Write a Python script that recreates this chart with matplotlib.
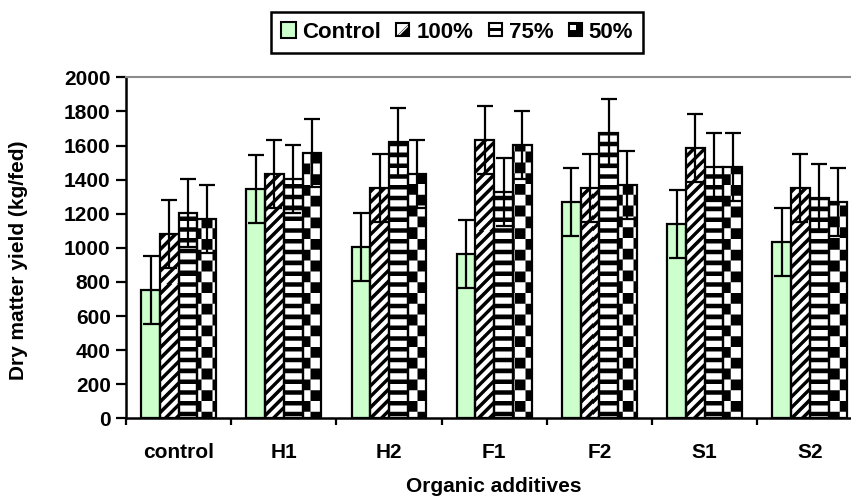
import numpy as np
import matplotlib
matplotlib.use("Agg")
import matplotlib.pyplot as plt
from matplotlib.legend_handler import HandlerBase
from matplotlib.patches import Rectangle, Polygon, Patch

plt.rcParams['font.family'] = ['Liberation Sans', 'DejaVu Sans']
plt.rcParams['font.weight'] = 'bold'
plt.rcParams['axes.labelweight'] = 'bold'

# ---------------- data ----------------
categories = ["control", "H1", "H2", "F1", "F2", "S1", "S2"]
series_names = ["Control", "100%", "75%", "50%"]
control_vals = [752, 1343, 1006, 962, 1267, 1141, 1036]
p100_vals = [1081, 1431, 1352, 1632, 1352, 1587, 1352]
p75_vals = [1204, 1404, 1622, 1329, 1671, 1476, 1290]
p50_vals = [1167, 1558, 1433, 1603, 1367, 1476, 1269]
err_control = [200, 200, 200, 200, 200, 200, 200]
err_p100 = [200, 200, 200, 200, 200, 200, 200]
err_p75 = [200, 200, 200, 200, 200, 200, 200]
err_p50 = [200, 200, 200, 200, 200, 200, 200]
yticks = [0, 200, 400, 600, 800, 1000, 1200, 1400, 1600, 1800, 2000]

GREEN = '#CCFFCC'
W, H = 851, 499
fig = plt.figure(figsize=(W / 100, H / 100), dpi=100)
ax_l, ax_b, ax_w, ax_h = 126 / W, 80.7 / H, (W - 126) / W, 341 / H
ax = fig.add_axes([ax_l, ax_b, ax_w, ax_h])

XMIN, XMAX = -0.5, -0.5 + (W - 126) / 105.2
YMAX = 2000

x = np.arange(len(categories))
bw = 0.178
offsets = [-1.5 * bw, -0.5 * bw, 0.5 * bw, 1.5 * bw]
vals = [control_vals, p100_vals, p75_vals, p50_vals]
errs = [err_control, err_p100, err_p75, err_p50]
kinds = ['control', 'diag', 'hstripe', 'checker']

# pattern images in pixel space of the axes
pxw, pxh = int(round(W - 126)), 341
ss = 4
u = (np.arange(pxw * ss) + 0.5) / ss
v = (np.arange(pxh * ss) + 0.5) / ss
U, V = np.meshgrid(u, v)
P = 10.8


def make_pattern(kind):
    if kind == 'diag':
        black = ((U + V) % P) < 0.45 * P
    elif kind == 'hstripe':
        black = (V % P) < 0.42 * P
    else:
        black = ((np.floor(U / P) + np.floor(V / P)) % 2) == 0
    img = np.where(black, 0.0, 1.0)
    img = img.reshape(pxh, ss, pxw, ss).mean(axis=(1, 3))
    return img


patterns = {k: make_pattern(k) for k in ['diag', 'hstripe', 'checker']}

for i in range(4):
    face = GREEN if kinds[i] == 'control' else 'white'
    bars = ax.bar(x + offsets[i], vals[i], width=bw, color=face,
                  edgecolor='none', zorder=2)
    if kinds[i] != 'control':
        for b in bars:
            im = ax.imshow(patterns[kinds[i]], cmap='gray', vmin=0, vmax=1,
                           extent=(XMIN, XMAX, 0, YMAX), origin='upper',
                           aspect='auto', interpolation='nearest', zorder=2.5)
            im.set_clip_path(b)
    ax.bar(x + offsets[i], vals[i], width=bw, fill=False,
           edgecolor='black', linewidth=1.6, zorder=3)
    ax.errorbar(x + offsets[i], vals[i], yerr=errs[i], fmt='none',
                ecolor='black', elinewidth=1.6, capsize=5.5, capthick=1.6,
                zorder=4)

ax.set_xlim(XMIN, XMAX)
ax.set_ylim(0, YMAX)
ax.set_yticks(yticks)
ax.set_xticks(x)
ax.set_xticklabels(categories)
ax.set_xticks(np.arange(len(categories)) - 0.5, minor=True)
ax.tick_params(axis='x', which='major', length=0, pad=18, labelsize=15)
ax.tick_params(axis='x', which='minor', length=5, width=1.6, direction='out')
ax.tick_params(axis='y', which='major', length=7, width=1.6, pad=4,
               labelsize=15, direction='out')
for s in ['left', 'bottom']:
    ax.spines[s].set_linewidth(1.8)
ax.spines['right'].set_visible(False)
ax.spines['top'].set_color('#8c8c8c')
ax.spines['top'].set_linewidth(1.5)

fig.text(18.5 / W, 1 - 260 / H, "Dry matter yield (kg/fed)", rotation=90,
         ha='center', va='center', fontsize=15, fontweight='bold')
fig.text(494 / W, 1 - 487 / H, "Organic additives", ha='center',
         va='center', fontsize=15, fontweight='bold')


class IconHandler(HandlerBase):
    def __init__(self, kind):
        super().__init__()
        self.kind = kind

    def create_artists(self, legend, orig_handle, xdescent, ydescent,
                       width, height, fontsize, trans):
        s = height if self.kind == 'control' else height * 0.85
        x0 = -xdescent + (width - s) / 2
        y0 = -ydescent + (height - s) / 2
        lw = 1.5
        arts = []
        if self.kind == 'control':
            arts.append(Rectangle((x0, y0), s, s, facecolor=GREEN,
                                  edgecolor='k', lw=lw, transform=trans))
            return arts
        arts.append(Rectangle((x0, y0), s, s, facecolor='white',
                              edgecolor='none', transform=trans))
        if self.kind == 'diag':
            arts.append(Polygon([[x0 + s * 0.2, y0], [x0 + s, y0],
                                 [x0 + s, y0 + s * 0.8]], closed=True,
                                facecolor='k', edgecolor='none',
                                transform=trans))
            arts.append(Polygon([[x0, y0], [x0 + s * 0.05, y0],
                                 [x0 + s, y0 + s * 0.95], [x0 + s, y0 + s]],
                                closed=True, facecolor='k', edgecolor='none',
                                transform=trans))
        elif self.kind == 'hstripe':
            arts.append(Rectangle((x0, y0 + s * 0.38), s, s * 0.24,
                                  facecolor='k', edgecolor='none',
                                  transform=trans))
        else:
            arts.append(Rectangle((x0, y0), s, s, facecolor='k',
                                  edgecolor='none', transform=trans))
            arts.append(Rectangle((x0 + s * 0.12, y0 + s * 0.45), s * 0.42,
                                  s * 0.43, facecolor='white',
                                  edgecolor='none', transform=trans))
        arts.append(Rectangle((x0, y0), s, s, facecolor='none',
                              edgecolor='k', lw=lw, transform=trans))
        return arts


handles = [Patch(label=n) for n in series_names]
hmap = {h: IconHandler(k) for h, k in zip(handles, kinds)}
leg = fig.legend(handles, series_names, loc='center',
                 bbox_to_anchor=(457 / W, 1 - 32 / H), ncol=4,
                 frameon=True, fancybox=False, framealpha=1,
                 edgecolor='black', handler_map=hmap,
                 prop={'family': 'Liberation Sans', 'weight': 'bold',
                       'size': 16},
                 handlelength=0.7, handleheight=0.7, handletextpad=0.25,
                 columnspacing=0.65, borderpad=0.45)
leg.get_frame().set_linewidth(1.8)

fig.savefig("out.png", dpi=100)
